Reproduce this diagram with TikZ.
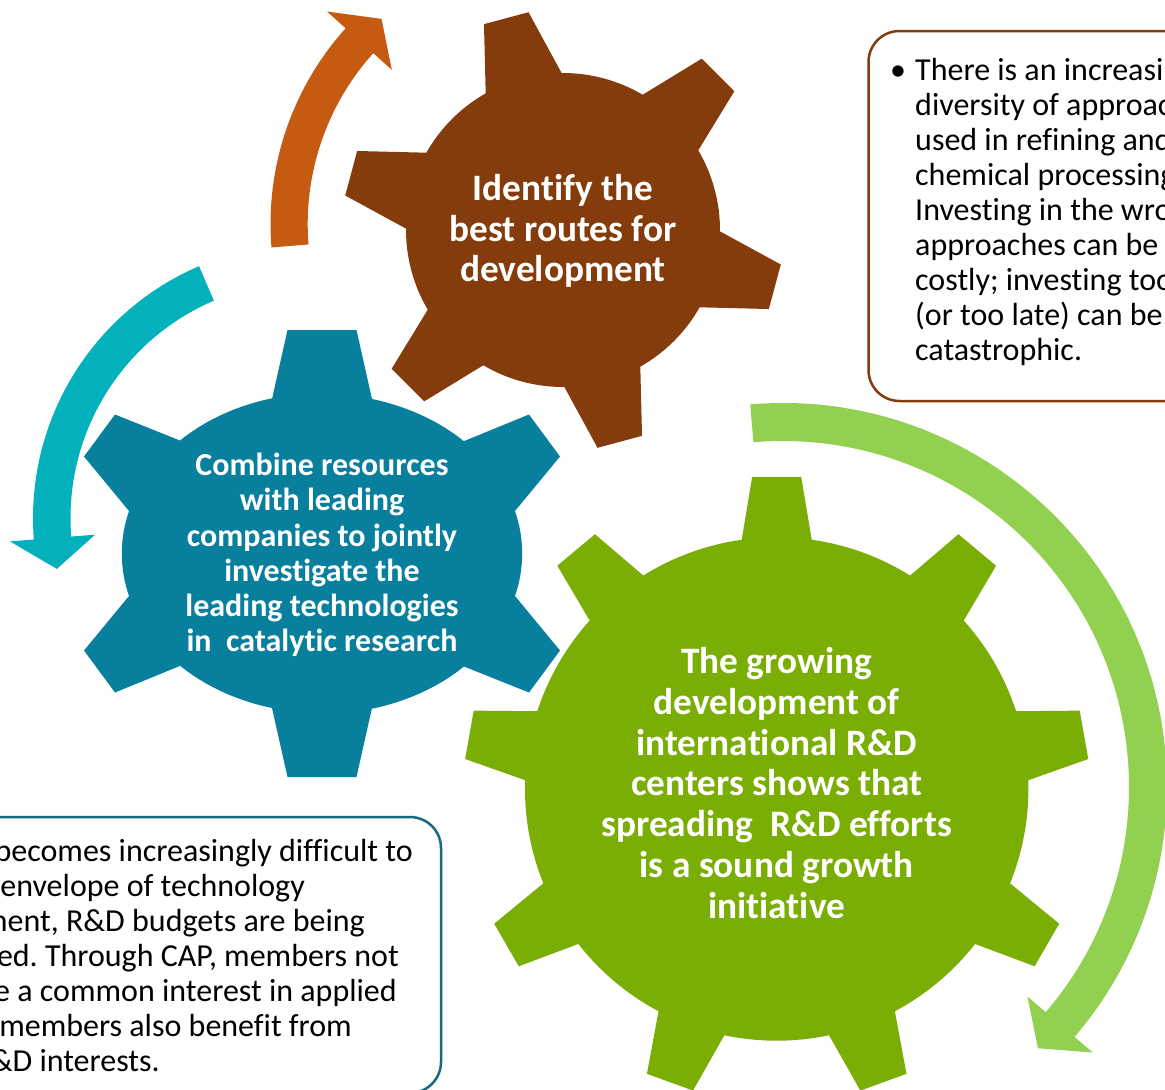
\documentclass[tikz,border=0pt]{standalone}
\usepackage{fontspec}
\setmainfont{Carlito}[Ligatures={NoCommon}]
\frenchspacing
\usetikzlibrary{calc}
\definecolor{gearbrown}{RGB}{132,60,12}
\definecolor{arroworange}{RGB}{197,90,17}
\definecolor{gearteal}{RGB}{8,128,157}
\definecolor{arrowteal}{RGB}{2,177,187}
\definecolor{geargreen}{RGB}{122,174,5}
\definecolor{arrowgreen}{RGB}{146,208,80}
\definecolor{boxteal}{RGB}{25,105,125}
% #1 colour, #2 cx, #3 cy, #4 inner r, #5 outer r, #6 start angle, #7 head base angle, #8 tip angle, #9 barb
\newcommand\circarrow[9]{%
  \begin{scope}[shift={(#2,#3)}]
    \fill[#1] (#6:#5) arc[start angle=#6, end angle=#7, radius=#5]
      -- (#7:{#5+#9}) -- (#8:{(#4+#5)/2}) -- (#7:{#4-#9}) -- (#7:#4)
      arc[start angle=#7, end angle=#6, radius=#4] -- cycle;
  \end{scope}}
\begin{document}
\begin{tikzpicture}[x=1pt,y=-1pt,
  geartext/.style={text=white, align=center, inner sep=0pt, font=\bfseries\fontsize{37.3}{40.7}\selectfont},
  tealtext/.style={text=white, align=center, inner sep=0pt, font=\bfseries\fontsize{32}{35.2}\selectfont},
  boxtext/.style={text=black, inner sep=0pt, font=\fontsize{32}{35}\selectfont},
  callout/.style={line width=2.5pt, fill=white, rounded corners=31pt}]
\useasboundingbox (0,0) rectangle (1165,1090);
\clip (0,0) rectangle (1165,1090);

% circular arrows
\circarrow{arroworange}{563}{224}{255.3}{292.5}{175.4}{222}{228.5}{25}
\circarrow{arrowteal}{307}{518}{236.5}{274}{246.8}{175.5}{168.5}{24}
\circarrow{arrowgreen}{783}{787}{346}{384}{-94.9}{40.6}{45.7}{24}

% brown gear
\begin{scope}[shift={(563,230)}]
  \fill[gearbrown] (0.5:157) \foreach \a in {15,75,...,315} {
      -- ({\a-14.5}:157) -- ({\a-6}:220.5) -- ({\a+6}:220.5) -- ({\a+14.5}:157)
      arc[start angle={\a+14.5}, end angle={\a+45.5}, radius=157] } -- cycle;
\end{scope}

% green gear
\begin{scope}[shift={(776.7,789)}]
  \fill[geargreen] (-98:251.7) \foreach \a in {-90,-50,...,230} {
      -- ({\a-8}:251.7) -- ({\a-4.5}:313) -- ({\a+4.5}:313) -- ({\a+8}:251.7)
      arc[start angle={\a+8}, end angle={\a+32}, radius=251.7] } -- cycle;
\end{scope}

% teal gear (elliptical body)
\begin{scope}[shift={(322,553.5)}]
  \fill[gearteal] (-50,-154.5) -- (-34.5,-223.5) -- (34.5,-223.5) -- (50,-154.5)
    arc[start angle=-75.5, end angle=-44.8, x radius=200, y radius=160]
    -- (207,-139) -- (238,-97) -- (193,-42.5)
    arc[start angle=-15.4, end angle=15.4, x radius=200, y radius=160]
    -- (238,97) -- (207,139) -- (142,113)
    arc[start angle=44.8, end angle=75.5, x radius=200, y radius=160]
    -- (50,154.5) -- (34.5,223.5) -- (-34.5,223.5) -- (-50,154.5)
    arc[start angle=104.5, end angle=135.2, x radius=200, y radius=160]
    -- (-207,139) -- (-238,97) -- (-193,42.5)
    arc[start angle=164.6, end angle=195.4, x radius=200, y radius=160]
    -- (-238,-97) -- (-207,-139) -- (-142,-113)
    arc[start angle=224.8, end angle=255.5, x radius=200, y radius=160]
    -- cycle;
\end{scope}

% gear labels
\node[geartext] (brownlabel) at (563,231) {Identify the\\best routes for\\development};
\node[tealtext] (teallabel) at (322,555) {Combine resources\\with leading\\companies to jointly\\investigate the\\leading technologies\\in~~catalytic research};
\node[geartext] (greenlabel) at (776.7,783) {The growing\\development of\\international R\&D\\centers shows that\\spreading~~R\&D efforts\\is a sound growth\\initiative};

% top-right callout
\draw[callout, draw=gearbrown] (868.5,31) rectangle (1215,401);
\node[boxtext, anchor=base] (bullet) at (898,80) {•};
\foreach \t [count=\i from 0] in {There is an increasing, diversity of approaches, used in refining and, chemical processing., Investing in the wrong, approaches can be, costly; investing too, (or too late) can be, catastrophic.}
  \node[boxtext, anchor=base west] (tr\i) at (915,{80+35*\i}) {\t};

% bottom-left callout
\draw[callout, draw=boxteal] (-60,817) rectangle (441,1093);
\foreach \t/\x [count=\i from 0] in {becomes increasingly difficult to/413, envelope of technology/305, {ment, R\&D budgets are being}/365, {ed. Through CAP, members not}/399, e a common interest in applied/397, members also benefit from/352, R\&D interests./160}
  \node[boxtext, anchor=base east] (bl\i) at (\x,{861+35*\i}) {\t};
\end{tikzpicture}
\end{document}
